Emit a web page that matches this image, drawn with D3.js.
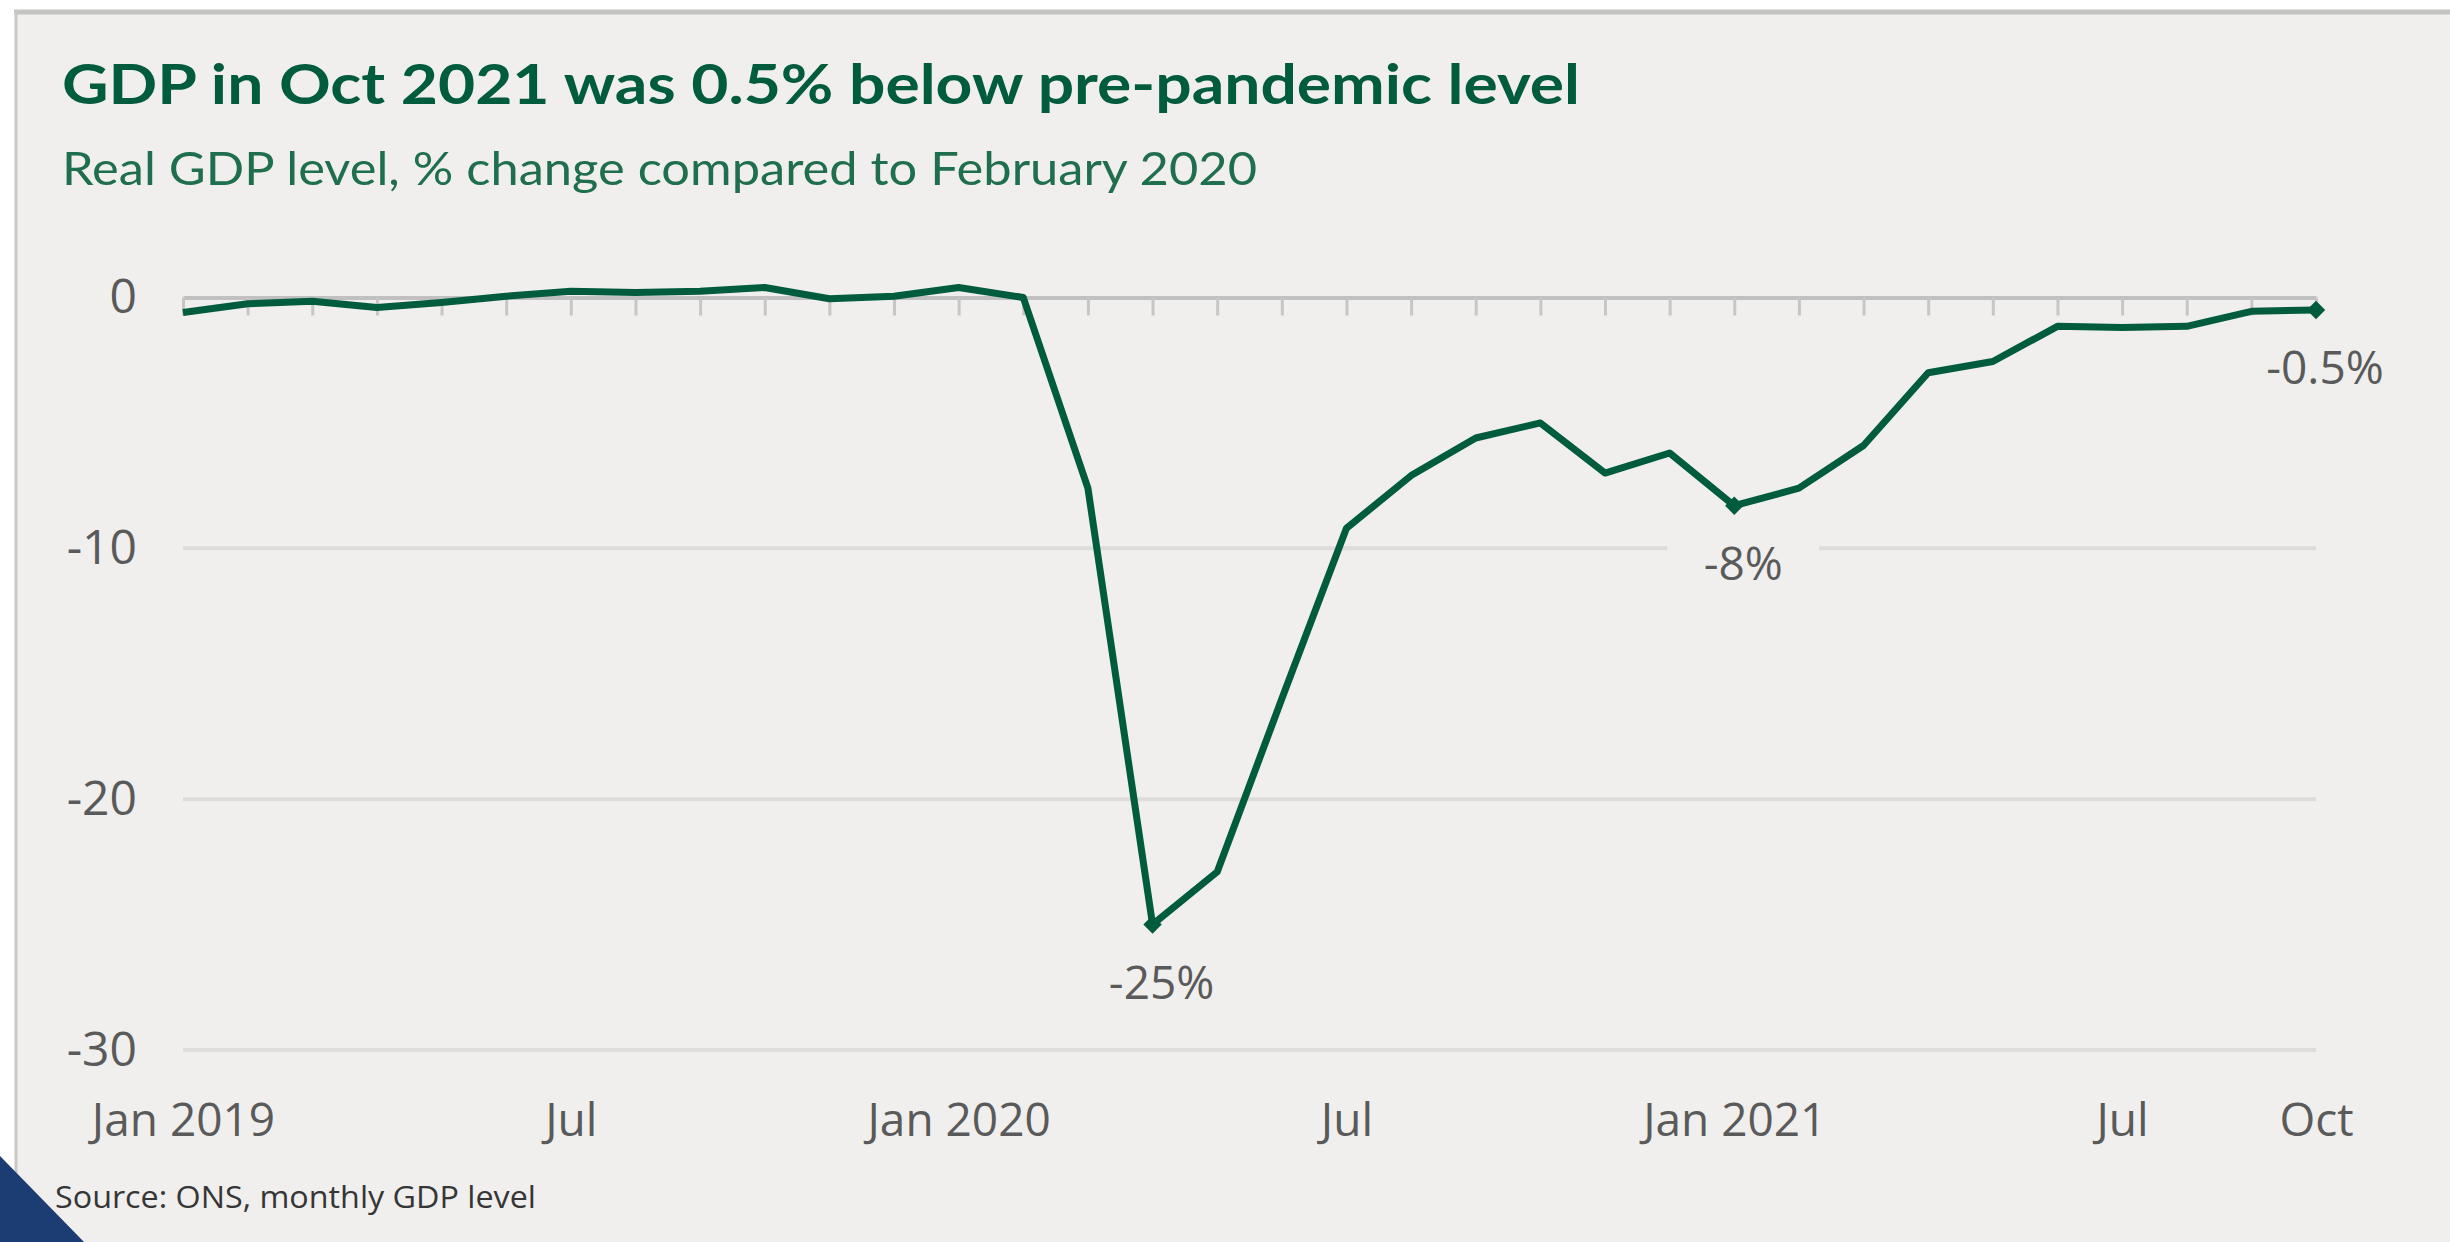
<!DOCTYPE html>
<html>
<head>
<meta charset="utf-8">
<script src="https://cdn.jsdelivr.net/npm/d3@7"></script>
<style>
  html, body { margin: 0; padding: 0; background: #fff; }
  svg { display: block; }
</style>
</head>
<body>
<svg id="chart" width="2450" height="1242"></svg>
<script>
const months = [
  '2019-01', '2019-02', '2019-03', '2019-04', '2019-05', '2019-06',
  '2019-07', '2019-08', '2019-09', '2019-10', '2019-11', '2019-12',
  '2020-01', '2020-02', '2020-03', '2020-04', '2020-05', '2020-06',
  '2020-07', '2020-08', '2020-09', '2020-10', '2020-11', '2020-12',
  '2021-01', '2021-02', '2021-03', '2021-04', '2021-05', '2021-06',
  '2021-07', '2021-08', '2021-09', '2021-10'
];
const gdpChange = [
  -0.6, -0.25, -0.15, -0.4, -0.2, 0.05,
  0.25, 0.2, 0.25, 0.4, -0.05, 0.05,
  0.4, 0.0, -7.6, -25.0, -22.9, -16.0,
  -9.2, -7.1, -5.6, -5.0, -7.0, -6.2,
  -8.3, -7.6, -5.9, -3.0, -2.55, -1.15,
  -1.2, -1.15, -0.55, -0.5
];
const yTicks = [0, -10, -20, -30];
const xTickMonths = ['2019-01', '2019-07', '2020-01', '2020-07', '2021-01', '2021-07', '2021-10'];
const xTickLabels = ['Jan 2019', 'Jul', 'Jan 2020', 'Jul', 'Jan 2021', 'Jul', 'Oct'];
const callouts = [
  { month: '2020-04', text: '-25%' },
  { month: '2021-01', text: '-8%' },
  { month: '2021-10', text: '-0.5%' }
];

const green = '#005c3d';
const grey = '#5a5a5a';
const panel = '#f0efed';
const tickFont = '"Open Sans", "DejaVu Sans", sans-serif';

const svg = d3.select('#chart');

// panel + frame
svg.append('rect').attr('x', 16).attr('y', 10).attr('width', 2434).attr('height', 1232).attr('fill', panel);
svg.append('line').attr('x1', 14).attr('x2', 2450).attr('y1', 12).attr('y2', 12)
  .attr('stroke', '#c4c4c2').attr('stroke-width', 5);
svg.append('line').attr('x1', 16).attr('x2', 16).attr('y1', 10).attr('y2', 1242)
  .attr('stroke', '#c8c8c6').attr('stroke-width', 3);
svg.append('polygon').attr('points', '0,1156 84,1242 0,1242').attr('fill', '#1c3c74');

// titles
svg.append('text').attr('x', 62).attr('y', 104)
  .attr('font-family', 'Lato, "Open Sans", sans-serif').attr('font-weight', 700)
  .attr('font-size', 56).attr('fill', green)
  .attr('textLength', 1518).attr('lengthAdjust', 'spacingAndGlyphs')
  .text('GDP in Oct 2021 was 0.5% below pre-pandemic level');
svg.append('text').attr('x', 62).attr('y', 185)
  .attr('font-family', 'Lato, "Open Sans", sans-serif')
  .attr('font-size', 46).attr('fill', '#1f6e4e')
  .attr('textLength', 1195).attr('lengthAdjust', 'spacingAndGlyphs')
  .text('Real GDP level, % change compared to February 2020');
svg.append('text').attr('x', 55).attr('y', 1208)
  .attr('font-family', tickFont).attr('font-size', 31).attr('fill', '#363636')
  .attr('textLength', 481).attr('lengthAdjust', 'spacingAndGlyphs')
  .text('Source: ONS, monthly GDP level');

const x = d3.scalePoint().domain(months).range([183, 2316]);
const y = d3.scaleLinear().domain([0, -30]).range([297.5, 1050]);

// gridlines
svg.append('g')
  .selectAll('line')
  .data(yTicks.filter(t => t !== 0))
  .enter()
  .append('line')
  .attr('x1', x.range()[0]).attr('x2', x.range()[1])
  .attr('y1', d => y(d)).attr('y2', d => y(d))
  .attr('stroke', '#dddcda').attr('stroke-width', 4);

// y axis labels
const yAxis = svg.append('g')
  .attr('transform', `translate(${x.range()[0]},0)`)
  .call(d3.axisLeft(y).tickValues(yTicks).tickSize(0).tickPadding(46).tickFormat(d => String(d)));
yAxis.select('.domain').remove();
yAxis.selectAll('text').attr('font-family', tickFont).attr('font-size', 48).attr('fill', grey);

// zero axis with month ticks
const zeroAxis = svg.append('g')
  .attr('transform', `translate(0,${y(0)})`)
  .call(d3.axisBottom(x).tickSize(18).tickSizeOuter(0).tickFormat(''));
zeroAxis.select('.domain').attr('stroke', '#c0c0c0').attr('stroke-width', 4);
zeroAxis.selectAll('.tick line').attr('stroke', '#c6c6c6').attr('stroke-width', 3);

// x labels
const xAxis = svg.append('g')
  .attr('transform', `translate(0,${y(-30)})`)
  .call(d3.axisBottom(x).tickValues(xTickMonths).tickSize(0).tickPadding(53)
    .tickFormat(m => xTickLabels[xTickMonths.indexOf(m)]));
xAxis.select('.domain').remove();
xAxis.selectAll('text').attr('font-family', tickFont).attr('font-size', 46).attr('fill', grey);

// callout label backgrounds (break the gridline)
const calloutSel = svg.append('g')
  .selectAll('g')
  .data(callouts)
  .enter()
  .append('g')
  .attr('transform', c => {
    const v = gdpChange[months.indexOf(c.month)];
    return `translate(${x(c.month) + 9},${y(v) + 74})`;
  });
calloutSel.filter(c => c.month === '2021-01')
  .append('rect')
  .attr('x', -76).attr('y', -50).attr('width', 152).attr('height', 66)
  .attr('fill', panel);

// line
const line = d3.line()
  .x((v, i) => x(months[i]))
  .y(v => y(v));
svg.append('path')
  .datum(gdpChange)
  .attr('d', line)
  .attr('fill', 'none')
  .attr('stroke', green)
  .attr('stroke-width', 7)
  .attr('stroke-linejoin', 'round');

// diamond markers
svg.append('g')
  .selectAll('path')
  .data(callouts)
  .enter()
  .append('path')
  .attr('d', d3.symbol(d3.symbolSquare, 170))
  .attr('transform', c => `translate(${x(c.month)},${y(gdpChange[months.indexOf(c.month)])}) rotate(45)`)
  .attr('fill', green);

calloutSel.append('text')
  .attr('text-anchor', 'middle')
  .attr('font-family', tickFont).attr('font-size', 46).attr('fill', grey)
  .text(c => c.text);
</script>
</body>
</html>
